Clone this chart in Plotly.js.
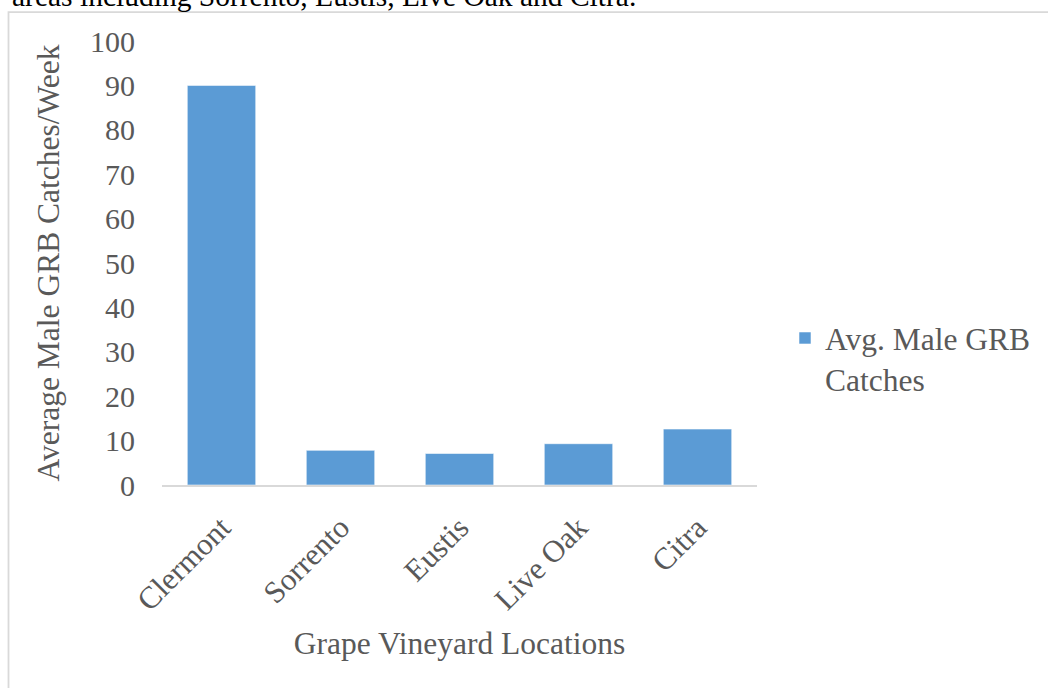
<!DOCTYPE html>
<html>
<head>
<meta charset="utf-8">
<script src="https://cdn.plot.ly/plotly-3.0.1.min.js"></script>
<style>
  html, body { margin: 0; padding: 0; background: #ffffff; }
  #chart { width: 1048px; height: 688px; }
</style>
</head>
<body>
<div id="chart"></div>
<script>
// Average weekly male GRB trap catches by vineyard location
const locations = ["Clermont", "Sorrento", "Eustis", "Live Oak", "Citra"];
const avgMaleCatches = [90.0, 7.8, 7.1, 9.3, 12.6];
const seriesName = "Avg. Male GRB<br>Catches";
const yTickValues = [0, 10, 20, 30, 40, 50, 60, 70, 80, 90, 100];
const captionText = "areas including Sorrento, Eustis, Live Oak and Citra.";

// Page geometry (pixels)
const W = 1048, H = 688;
const L = 161.6, R = 757, T = 41, B = 485.5;
const fx = px => (px - L) / (R - L);
const fy = py => (B - py) / (B - T);

const serif = "'Liberation Serif', 'Times New Roman', serif";
const grey = "#595959";

const trace = {
  type: "bar",
  x: locations,
  y: avgMaleCatches,
  name: seriesName,
  showlegend: true,
  marker: {
    color: "#5B9BD5",
    line: { color: "rgba(255,255,255,0.55)", width: 1 }
  },
  hoverinfo: "x+y"
};

const layout = {
  width: W,
  height: H,
  margin: { l: L, r: W - R, t: T, b: H - B, pad: 0 },
  paper_bgcolor: "#ffffff",
  plot_bgcolor: "#ffffff",
  font: { family: serif, size: 31, color: grey },
  bargap: 0.425,
  showlegend: true,
  xaxis: {
    type: "category",
    tickangle: -45,
    ticks: "",
    showgrid: false,
    zeroline: false,
    showline: true,
    linecolor: "#D9D9D9",
    linewidth: 2,
    ticklabelstandoff: 10,
    tickfont: { family: serif, size: 31, color: grey },
    title: {
      text: "Grape Vineyard Locations",
      font: { family: serif, size: 31.5, color: grey },
      standoff: 16
    },
    automargin: false,
    fixedrange: true
  },
  yaxis: {
    range: [0, 100],
    tickvals: yTickValues,
    ticktext: yTickValues.map(String),
    ticks: "",
    showgrid: false,
    zeroline: false,
    showline: false,
    ticklabelstandoff: 26,
    tickfont: { family: serif, size: 30, color: grey },
    title: {
      text: "Average Male GRB Catches/Week",
      font: { family: serif, size: 31.5, color: grey },
      standoff: 20
    },
    automargin: false,
    fixedrange: true
  },
  legend: {
    xref: "container",
    yref: "container",
    x: 785 / W,
    y: 1 - 311 / H,
    xanchor: "left",
    yanchor: "top",
    valign: "top",
    bgcolor: "rgba(0,0,0,0)",
    borderwidth: 0,
    font: { family: serif, size: 31.5, color: grey }
  },
  shapes: [
    {
      type: "path",
      xref: "paper",
      yref: "paper",
      path: "M " + fx(8) + "," + fy(H + 5) +
            " L " + fx(8) + "," + fy(12) +
            " L " + fx(W + 5) + "," + fy(12),
      line: { color: "#D9D9D9", width: 1.8 },
      layer: "below"
    }
  ],
  annotations: [
    {
      xref: "paper",
      yref: "paper",
      x: fx(9),
      y: fy(-4),
      xanchor: "left",
      yanchor: "middle",
      showarrow: false,
      text: captionText,
      font: { family: serif, size: 29.5, color: "#000000" }
    }
  ]
};

Plotly.newPlot("chart", [trace], layout, { displayModeBar: false, staticPlot: true });
</script>
</body>
</html>
